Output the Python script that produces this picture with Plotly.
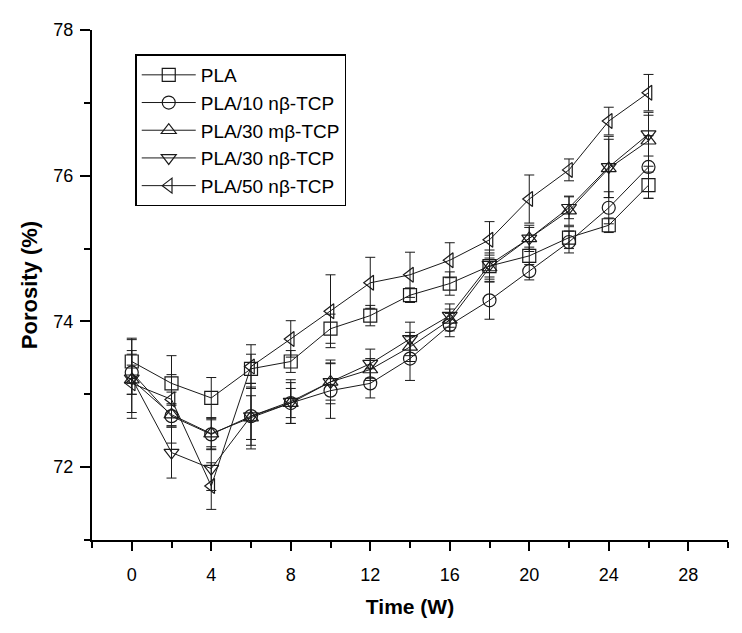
import plotly.graph_objects as go

time_w = [0, 2, 4, 6, 8, 10, 12, 14, 16, 18, 20, 22, 24, 26]

pla = [73.45, 73.15, 72.95, 73.35, 73.45, 73.90, 74.08, 74.36, 74.52, 74.76, 74.90, 75.15, 75.32, 75.87]
pla_err = [0.30, 0.12, 0.28, 0.20, 0.15, 0.20, 0.14, 0.10, 0.16, 0.15, 0.12, 0.15, 0.10, 0.18]

pla10n = [73.30, 72.70, 72.45, 72.70, 72.88, 73.05, 73.15, 73.49, 73.95, 74.29, 74.69, 75.09, 75.56, 76.12]
pla10n_err = [0.30, 0.15, 0.20, 0.45, 0.28, 0.38, 0.20, 0.30, 0.16, 0.26, 0.12, 0.15, 0.22, 0.43]

pla30m = [73.20, 72.72, 72.46, 72.68, 72.88, 73.17, 73.34, 73.65, 74.02, 74.74, 75.14, 75.52, 76.10, 76.48]
pla30m_err = [0.20, 0.15, 0.22, 0.30, 0.20, 0.25, 0.15, 0.20, 0.15, 0.20, 0.15, 0.20, 0.40, 0.35]

pla30n = [73.22, 72.20, 71.98, 72.70, 72.90, 73.17, 73.42, 73.76, 74.08, 74.78, 75.14, 75.56, 76.12, 76.57]
pla30n_err = [0.55, 0.35, 0.30, 0.40, 0.30, 0.30, 0.20, 0.23, 0.16, 0.20, 0.18, 0.15, 0.42, 0.30]

pla50n = [73.15, 72.93, 71.74, 73.38, 73.76, 74.14, 74.53, 74.64, 74.84, 75.12, 75.68, 76.08, 76.75, 77.14]
pla50n_err = [0.40, 0.60, 0.32, 0.30, 0.25, 0.50, 0.35, 0.31, 0.24, 0.25, 0.33, 0.15, 0.19, 0.25]

series = [
    ("PLA", pla, pla_err, "square-open"),
    ("PLA/10 nβ-TCP", pla10n, pla10n_err, "circle-open"),
    ("PLA/30 mβ-TCP", pla30m, pla30m_err, "triangle-up-open"),
    ("PLA/30 nβ-TCP", pla30n, pla30n_err, "triangle-down-open"),
    ("PLA/50 nβ-TCP", pla50n, pla50n_err, "triangle-left-open"),
]

ink = "#1a1a1a"
fig = go.Figure()
for name, vals, errs, sym in series:
    fig.add_trace(go.Scatter(
        x=time_w, y=vals, name=name, mode="lines+markers",
        line=dict(color=ink, width=1),
        marker=dict(symbol=sym, size=13, color=ink, line=dict(width=1.2, color=ink)),
        error_y=dict(type="data", array=errs, visible=True, color=ink, thickness=1, width=5),
    ))

font_family = "Liberation Sans, Arial, sans-serif"
fig.update_layout(
    width=734, height=625,
    margin=dict(l=83.5, r=13.5, t=16, b=93),
    paper_bgcolor="white", plot_bgcolor="white",
    font=dict(family=font_family, size=18, color="black"),
    showlegend=True,
    legend=dict(
        x=0.068, y=0.952, xanchor="left", yanchor="top",
        bordercolor="black", borderwidth=1.5, bgcolor="white",
        font=dict(size=19, family=font_family),
        itemwidth=54, tracegroupgap=0,
    ),
    xaxis=dict(
        range=[-2, 30], tickmode="linear", tick0=0, dtick=4,
        showline=True, linecolor="black", linewidth=2,
        ticks="outside", ticklen=9, tickwidth=1.5, tickcolor="black",
        ticklabelstandoff=8,
        minor=dict(tickmode="linear", tick0=-2, dtick=2, ticks="outside", ticklen=6, tickwidth=1.5, tickcolor="black"),
        showgrid=False, zeroline=False,
        tickfont=dict(size=18),
        title=dict(text="<b>Time (W)</b>", font=dict(size=21), standoff=16),
    ),
    yaxis=dict(
        range=[71, 78], tickmode="linear", tick0=72, dtick=2,
        showline=True, linecolor="black", linewidth=2,
        ticks="outside", ticklen=10, tickwidth=1.5, tickcolor="black",
        ticklabelstandoff=3,
        minor=dict(tickmode="linear", tick0=71, dtick=1, ticks="outside", ticklen=6, tickwidth=1.5, tickcolor="black"),
        showgrid=False, zeroline=False,
        tickfont=dict(size=18),
        title=dict(text="<b>Porosity (%)</b>", font=dict(size=22), standoff=10),
    ),
)

fig.write_html("out.html")
